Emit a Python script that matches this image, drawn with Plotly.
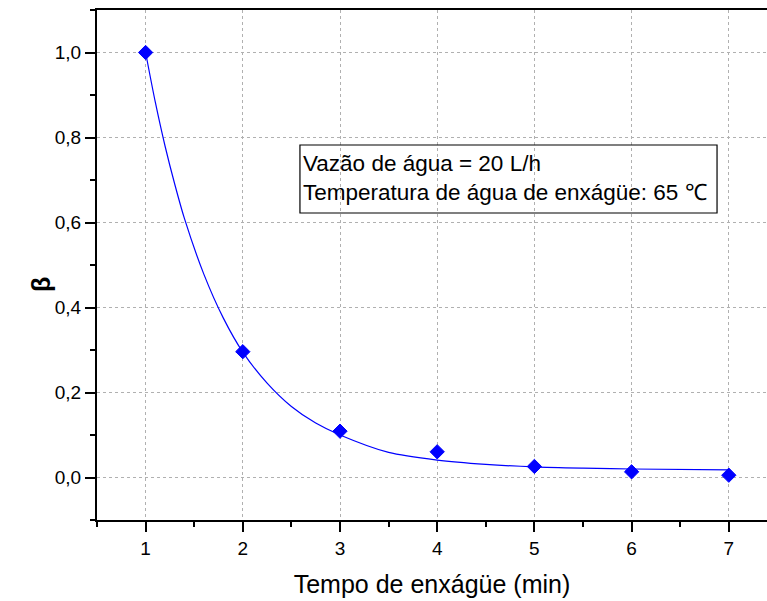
import plotly.graph_objects as go

# Measured data
tempo = [1, 2, 3, 4, 5, 6, 7]
beta = [1.000, 0.296, 0.109, 0.0605, 0.026, 0.0134, 0.0054]

# Fitted curve
fit_x = [1.0, 1.1, 1.2, 1.3, 1.4, 1.6, 1.8, 2.0, 2.25, 2.5, 2.75, 3.0, 3.5, 4.0, 4.5, 5.0, 5.5, 6.0, 7.0]
fit_y = [1.000, 0.883, 0.780, 0.690, 0.609, 0.478, 0.375, 0.295, 0.222, 0.167, 0.128, 0.100,
         0.059, 0.041, 0.031, 0.025, 0.022, 0.020, 0.018]

x_ticks = [1, 2, 3, 4, 5, 6, 7]
y_ticks = [0.0, 0.2, 0.4, 0.6, 0.8, 1.0]

info_lines = ["Vazão de água = 20 L/h", "Temperatura de água de enxágüe: 65 ℃"]

FONT = "Liberation Sans, Arial, sans-serif"

fig = go.Figure()
fig.add_trace(go.Scatter(x=fit_x, y=fit_y, mode="lines", line=dict(color="#0000ff", width=1.2, shape="spline", smoothing=0.8),
                         hoverinfo="skip", showlegend=False))
fig.add_trace(go.Scatter(x=tempo, y=beta, mode="markers",
                         marker=dict(symbol="diamond", size=11, color="#0000ff", line=dict(color="#0000ff", width=1)),
                         showlegend=False))

fig.update_layout(
    width=767, height=601, margin=dict(l=97, r=0, t=10, b=81),
    paper_bgcolor="white", plot_bgcolor="white", separators=",.",
    font=dict(family=FONT, color="black", size=19),
    xaxis=dict(
        range=[0.5, 0.5 + (767 - 97) / 97.2], tickmode="array", tickvals=x_ticks, ticktext=[str(v) for v in x_ticks],
        ticks="outside", ticklen=10, tickwidth=2, tickcolor="black",
        showline=True, linecolor="black", linewidth=2, mirror=True, zeroline=False,
        showgrid=True, gridcolor="#b0b0b0", gridwidth=1, griddash="dot",
        minor=dict(tick0=0.5, dtick=0.5, ticks="outside", ticklen=5, tickwidth=2, tickcolor="black", showgrid=False),
        tickfont=dict(family=FONT, size=19, color="black"),
        title=dict(text="Tempo de enxágüe (min)", font=dict(family=FONT, size=25, color="black"), standoff=18),
    ),
    yaxis=dict(
        range=[-0.1, 1.1], tickmode="array", tickvals=y_ticks, ticktext=[f"{v:.1f}".replace(".", ",") for v in y_ticks],
        ticks="outside", ticklen=10, tickwidth=2, tickcolor="black",
        showline=True, linecolor="black", linewidth=2, zeroline=False,
        showgrid=True, gridcolor="#b0b0b0", gridwidth=1, griddash="dot",
        minor=dict(tick0=0.1, dtick=0.2, ticks="outside", ticklen=5, tickwidth=2, tickcolor="black", showgrid=False),
        tickfont=dict(family=FONT, size=19, color="black"),
    ),
)

# Y axis title
fig.add_annotation(xref="paper", yref="paper", x=0, y=0.5, xshift=-72, yshift=-20, textangle=-90,
                   text="<b>β</b>", showarrow=False, font=dict(family=FONT, size=25, color="black"))

# Info box
fig.add_shape(type="rect", xref="x", yref="y", x0=2.588, x1=6.879, y0=0.6224, y1=0.7824,
              line=dict(color="black", width=1.2), fillcolor="rgba(0,0,0,0)", layer="above")
fig.add_annotation(xref="x", yref="y", x=2.60, y=0.773, xanchor="left", yanchor="top", align="left",
                   text="<br>".join(info_lines), showarrow=False,
                   font=dict(family=FONT, size=22.5, color="black"))

fig.write_html("out.html")
